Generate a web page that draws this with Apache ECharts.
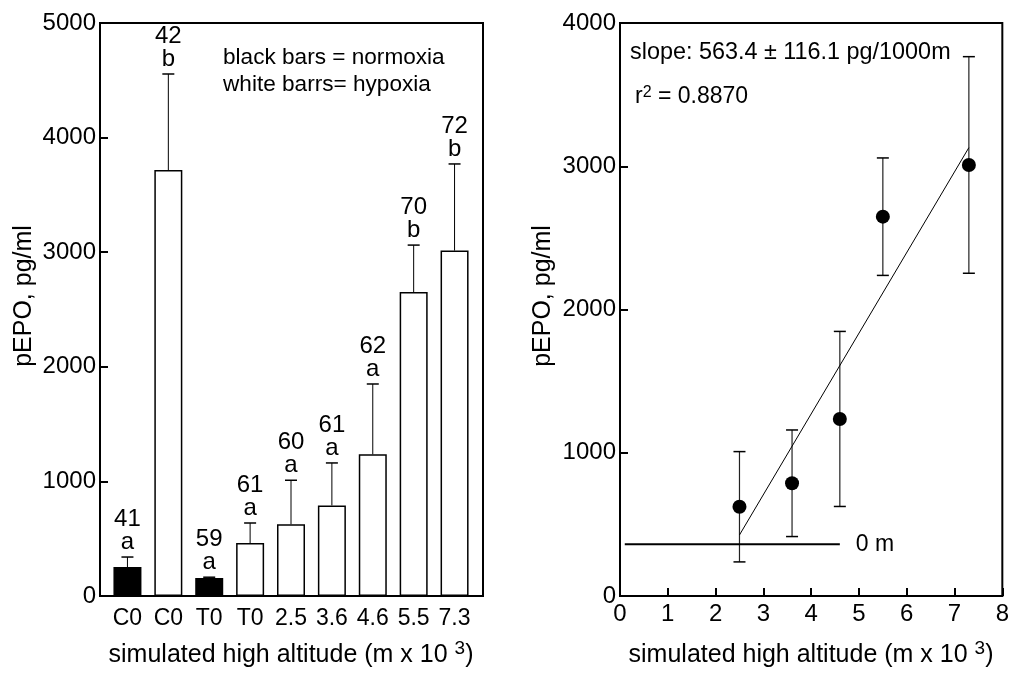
<!DOCTYPE html>
<html>
<head>
<meta charset="utf-8">
<script src="https://cdn.jsdelivr.net/npm/echarts@6/dist/echarts.min.js"></script>
<style>
  html, body { margin: 0; background: #fff; }
  #main { width: 1012px; height: 677px; }
</style>
</head>
<body>
<div id="main"></div>
<script>
// left panel: bars
var categories = ['C0', 'C0', 'T0', 'T0', '2.5', '3.6', '4.6', '5.5', '7.3'];
var condition = ['normoxia', 'hypoxia', 'normoxia', 'hypoxia', 'hypoxia', 'hypoxia', 'hypoxia', 'hypoxia', 'hypoxia'];
var meanEPO = [253, 3717, 157, 462, 626, 790, 1236, 2652, 3014];
var sdEPO = [87, 838, 7, 175, 384, 371, 614, 410, 756];
var sampleN = ['41', '42', '59', '61', '60', '61', '62', '70', '72'];
var groupLetter = ['a', 'b', 'a', 'a', 'a', 'a', 'a', 'b', 'b'];

// right panel: regression
var altitude = [2.5, 3.6, 4.6, 5.5, 7.3];
var altitudeEPO = [623, 787, 1236, 2648, 3009];
var altitudeSD = [385, 372, 611, 410, 756];
var fitX = [2.5, 7.3];
var fitY = [426, 3130];
var seaLevelX = [0.1, 4.6];
var seaLevelEPO = 361;

var FONT = '"Liberation Sans", Arial, sans-serif';

var chart = echarts.init(document.getElementById('main'));

function tickAxis(grid, max, step) {
  return {
    gridIndex: grid,
    type: 'value',
    min: 0,
    max: max,
    interval: step,
    axisLine: { show: false },
    axisTick: { show: true, inside: true, length: 8, lineStyle: { color: '#000', width: 2 } },
    axisLabel: { color: '#000', fontSize: 24, fontFamily: FONT, margin: 4, formatter: function (v) { return String(v); } },
    splitLine: { show: false }
  };
}

var rightX = tickAxis(2, 8, 1);
rightX.axisLabel = { color: '#000', fontSize: 24, fontFamily: FONT, margin: 6 };

var option = {
  animation: false,
  textStyle: { fontFamily: FONT, color: '#000' },
  grid: [
    { left: 100, top: 23, width: 383, height: 573, show: true, borderColor: '#000', borderWidth: 2 },
    { left: 107, top: 23, width: 368, height: 573 },
    { left: 620, top: 23, width: 383, height: 573, show: true, borderColor: '#000', borderWidth: 2 }
  ],
  xAxis: [
    { gridIndex: 0, type: 'value', min: 0, max: 1, show: false },
    {
      gridIndex: 1,
      type: 'category',
      data: categories,
      axisLine: { show: false },
      axisTick: { show: false },
      axisLabel: { color: '#000', fontSize: 23, fontFamily: FONT, margin: 11, interval: 0 }
    },
    rightX
  ],
  yAxis: [
    tickAxis(0, 5000, 1000),
    { gridIndex: 1, type: 'value', min: 0, max: 5000, show: false },
    tickAxis(2, 4000, 1000)
  ],
  series: [
    {
      type: 'bar',
      xAxisIndex: 1,
      yAxisIndex: 1,
      barWidth: 28,
      data: meanEPO.map(function (v, i) {
        var dark = condition[i] === 'normoxia';
        return {
          value: v,
          itemStyle: { color: dark ? '#000' : '#fff', borderColor: '#000', borderWidth: 1.5 }
        };
      })
    },
    {
      // upper SD bars + n / group labels
      type: 'custom',
      xAxisIndex: 1,
      yAxisIndex: 1,
      z: 5,
      data: meanEPO.map(function (v, i) { return [i, v, v + sdEPO[i]]; }),
      encode: { x: 0, y: [1, 2] },
      renderItem: function (params, api) {
        var i = api.value(0);
        var base = api.coord([i, api.value(1)]);
        var top = api.coord([i, api.value(2)]);
        return {
          type: 'group',
          children: [
            { type: 'line', shape: { x1: top[0], y1: base[1], x2: top[0], y2: top[1] }, style: { stroke: '#000', lineWidth: 1 } },
            { type: 'line', shape: { x1: top[0] - 6, y1: top[1], x2: top[0] + 6, y2: top[1] }, style: { stroke: '#000', lineWidth: 1.5 } },
            {
              type: 'text',
              x: top[0],
              y: top[1] - 3,
              style: {
                text: sampleN[i] + '\n' + groupLetter[i],
                textAlign: 'center',
                textVerticalAlign: 'bottom',
                fontSize: 24,
                lineHeight: 23,
                fontFamily: FONT,
                fill: '#000'
              }
            }
          ]
        };
      }
    },
    {
      type: 'custom',
      xAxisIndex: 2,
      yAxisIndex: 2,
      data: altitude.map(function (x, i) {
        return [x, altitudeEPO[i] - altitudeSD[i], altitudeEPO[i] + altitudeSD[i]];
      }),
      encode: { x: 0, y: [1, 2] },
      renderItem: function (params, api) {
        var lo = api.coord([api.value(0), api.value(1)]);
        var hi = api.coord([api.value(0), api.value(2)]);
        var cap = { stroke: '#000', lineWidth: 1.5 };
        return {
          type: 'group',
          children: [
            { type: 'line', shape: { x1: lo[0], y1: lo[1], x2: hi[0], y2: hi[1] }, style: { stroke: '#222', lineWidth: 1.2 } },
            { type: 'line', shape: { x1: hi[0] - 6, y1: hi[1], x2: hi[0] + 6, y2: hi[1] }, style: cap },
            { type: 'line', shape: { x1: lo[0] - 6, y1: lo[1], x2: lo[0] + 6, y2: lo[1] }, style: cap }
          ]
        };
      }
    },
    {
      type: 'line',
      xAxisIndex: 2,
      yAxisIndex: 2,
      data: fitX.map(function (x, i) { return [x, fitY[i]]; }),
      symbol: 'none',
      lineStyle: { color: '#000', width: 1 }
    },
    {
      type: 'line',
      xAxisIndex: 2,
      yAxisIndex: 2,
      data: seaLevelX.map(function (x) { return [x, seaLevelEPO]; }),
      symbol: 'none',
      lineStyle: { color: '#000', width: 2 },
      endLabel: { show: true, formatter: '0 m', distance: 16, fontSize: 23, fontFamily: FONT, color: '#000' }
    },
    {
      type: 'scatter',
      xAxisIndex: 2,
      yAxisIndex: 2,
      z: 6,
      symbolSize: 14,
      itemStyle: { color: '#000', opacity: 1 },
      data: altitude.map(function (x, i) { return [x, altitudeEPO[i]]; })
    }
  ],
  graphic: [
    { type: 'text', x: 223, y: 58, style: { text: 'black bars = normoxia', fontSize: 22.6, fontFamily: FONT, fill: '#000', textVerticalAlign: 'middle' } },
    { type: 'text', x: 223, y: 85, style: { text: 'white barrs= hypoxia', fontSize: 22.6, fontFamily: FONT, fill: '#000', textVerticalAlign: 'middle' } },
    { type: 'text', x: 630, y: 53, style: { text: 'slope: 563.4 \u00b1 116.1 pg/1000m', fontSize: 23.4, fontFamily: FONT, fill: '#000', textVerticalAlign: 'middle' } },
    {
      type: 'text', x: 635, y: 97,
      style: {
        text: 'r{sup|2} = 0.8870', fontSize: 23, fontFamily: FONT, fill: '#000', textVerticalAlign: 'middle',
        rich: { sup: { fontSize: 16, fontFamily: FONT, verticalAlign: 'bottom', padding: [0, 0, 9, 0] } }
      }
    },
    { type: 'text', x: 24, y: 296, rotation: Math.PI / 2, style: { text: 'pEPO, pg/ml', fontSize: 25, fontFamily: FONT, fill: '#000', textAlign: 'center', textVerticalAlign: 'middle' } },
    { type: 'text', x: 543, y: 296, rotation: Math.PI / 2, style: { text: 'pEPO, pg/ml', fontSize: 25, fontFamily: FONT, fill: '#000', textAlign: 'center', textVerticalAlign: 'middle' } },
    {
      type: 'text', x: 291, y: 655,
      style: {
        text: 'simulated high altitude (m x 10 {sup|3})', fontSize: 25, fontFamily: FONT, fill: '#000', textAlign: 'center', textVerticalAlign: 'middle',
        rich: { sup: { fontSize: 19, fontFamily: FONT, verticalAlign: 'bottom', padding: [0, 0, 12, 0] } }
      }
    },
    {
      type: 'text', x: 811, y: 655,
      style: {
        text: 'simulated high altitude (m x 10 {sup|3})', fontSize: 25, fontFamily: FONT, fill: '#000', textAlign: 'center', textVerticalAlign: 'middle',
        rich: { sup: { fontSize: 19, fontFamily: FONT, verticalAlign: 'bottom', padding: [0, 0, 12, 0] } }
      }
    }
  ]
};

chart.setOption(option);
</script>
</body>
</html>
